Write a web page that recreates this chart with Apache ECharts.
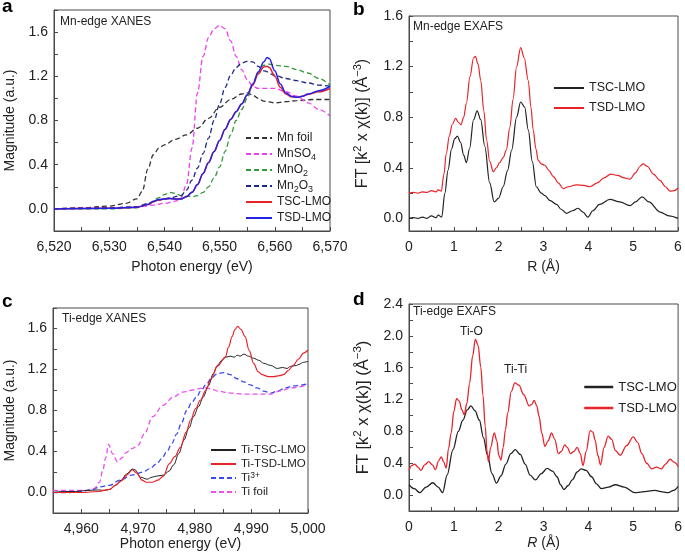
<!DOCTYPE html>
<html>
<head>
<meta charset="utf-8">
<script src="https://cdn.jsdelivr.net/npm/echarts@6/dist/echarts.min.js"></script>
<style>
  html, body { margin: 0; padding: 0; background: #fff; }
  #chart { width: 685px; height: 558px; }
</style>
</head>
<body>
<div id="chart"></div>
<script>
  // ---- panel a: Mn-edge XANES (energy eV, magnitude a.u.) ----
  const mnFoil = [[6520,0],[6525,0.01],[6530,0.025],[6533,0.05],[6535,0.09],[6536,0.16],[6537,0.36],[6538,0.49],[6539,0.55],[6540,0.58],[6542,0.63],[6544,0.67],[6546,0.73],[6548,0.82],[6550,0.92],[6552,0.99],[6554,1.04],[6555,1.05],[6556,1.03],[6557,1.0],[6558,0.975],[6560,0.96],[6562,0.97],[6564,0.98],[6567,0.99],[6570,0.99]]
  const mnSO4 = [[6520,0],[6530,0.01],[6535,0.015],[6538,0.035],[6540,0.05],[6542,0.07],[6543,0.1],[6544,0.22],[6545,0.55],[6546,1.05],[6547,1.38],[6548,1.55],[6549,1.63],[6550,1.66],[6551,1.63],[6552,1.52],[6553,1.38],[6554,1.26],[6555,1.17],[6556,1.11],[6557,1.09],[6558,1.09],[6560,1.09],[6562,1.06],[6564,1.02],[6566,0.96],[6568,0.9],[6570,0.84]]
  const mnO2 = [[6520,0],[6530,0],[6535,0.01],[6537,0.04],[6539,0.1],[6540,0.13],[6541,0.15],[6542,0.14],[6543,0.12],[6545,0.11],[6546,0.12],[6547,0.15],[6548,0.2],[6549,0.28],[6550,0.38],[6551,0.52],[6552,0.67],[6553,0.8],[6554,0.9],[6555,1.0],[6556,1.12],[6557,1.24],[6558,1.3],[6559,1.31],[6560,1.3],[6562,1.29],[6564,1.26],[6566,1.23],[6568,1.18],[6570,1.12]]
  const mn2O3 = [[6520,0],[6530,0.01],[6535,0.02],[6537,0.05],[6539,0.08],[6541,0.1],[6543,0.12],[6544,0.17],[6545,0.26],[6546,0.37],[6547,0.5],[6548,0.64],[6549,0.8],[6550,0.95],[6551,1.1],[6552,1.21],[6553,1.28],[6554,1.32],[6555,1.335],[6556,1.33],[6557,1.29],[6558,1.25],[6560,1.21],[6562,1.18],[6564,1.16],[6566,1.14],[6568,1.12],[6570,1.11]]
  const tscMn = [[6520,0],[6530,0.005],[6535,0.015],[6537,0.04],[6538,0.065],[6539,0.08],[6540,0.09],[6541,0.095],[6542,0.09],[6543,0.09],[6544,0.11],[6545,0.15],[6546,0.22],[6547,0.32],[6548,0.42],[6549,0.52],[6550,0.62],[6551,0.72],[6552,0.81],[6553,0.88],[6554,0.95],[6555,1.03],[6556,1.12],[6557,1.22],[6558,1.285],[6558.6,1.29],[6559,1.28],[6560,1.2],[6561,1.1],[6562,1.04],[6563,1.015],[6564,1.01],[6565,1.02],[6566,1.035],[6568,1.06],[6570,1.09]]
  const tsdMn = [[6520,0],[6530,0.005],[6535,0.015],[6537,0.04],[6538,0.07],[6539,0.085],[6540,0.09],[6541,0.095],[6542,0.09],[6543,0.09],[6544,0.11],[6545,0.15],[6546,0.22],[6547,0.32],[6548,0.42],[6549,0.52],[6550,0.62],[6551,0.72],[6552,0.81],[6553,0.88],[6554,0.95],[6555,1.03],[6556,1.13],[6557,1.24],[6558,1.33],[6558.6,1.37],[6559,1.36],[6560,1.25],[6561,1.13],[6562,1.05],[6563,1.02],[6564,1.01],[6565,1.02],[6566,1.04],[6568,1.07],[6570,1.11]]

  // ---- panel b: Mn-edge EXAFS (R in Å) ----
  const tscMnR = [[0,0],[0.1,0.005],[0.2,0],[0.3,0.01],[0.4,0],[0.5,0.02],[0.6,0.005],[0.65,0.025],[0.73,0.01],[0.8,0.2],[0.87,0.38],[0.95,0.55],[1.02,0.63],[1.08,0.65],[1.15,0.6],[1.22,0.5],[1.28,0.44],[1.35,0.55],[1.44,0.78],[1.52,0.85],[1.6,0.78],[1.69,0.57],[1.8,0.28],[1.9,0.13],[2.0,0.16],[2.1,0.25],[2.2,0.38],[2.29,0.54],[2.4,0.8],[2.49,0.92],[2.58,0.88],[2.66,0.7],[2.75,0.45],[2.84,0.25],[2.95,0.2],[3.03,0.18],[3.15,0.14],[3.29,0.11],[3.4,0.07],[3.51,0.04],[3.65,0.06],[3.77,0.08],[3.88,0.05],[3.99,0.01],[4.1,0.06],[4.25,0.11],[4.48,0.15],[4.7,0.13],[4.93,0.1],[5.05,0.13],[5.2,0.17],[5.35,0.13],[5.6,0.05],[5.8,0.02],[6.0,0]]
  const tsdMnR = [[0,0.2],[0.1,0.205],[0.2,0.2],[0.3,0.21],[0.4,0.205],[0.5,0.22],[0.6,0.21],[0.65,0.225],[0.72,0.215],[0.78,0.35],[0.83,0.51],[0.9,0.65],[0.96,0.74],[1.04,0.79],[1.1,0.76],[1.16,0.74],[1.22,0.8],[1.28,0.91],[1.36,1.12],[1.44,1.27],[1.48,1.28],[1.54,1.22],[1.6,1.09],[1.67,0.85],[1.73,0.62],[1.8,0.45],[1.88,0.37],[1.95,0.4],[2.02,0.44],[2.1,0.48],[2.17,0.54],[2.25,0.72],[2.32,0.94],[2.4,1.2],[2.49,1.35],[2.57,1.27],[2.66,1.09],[2.72,0.88],[2.77,0.7],[2.83,0.55],[2.88,0.46],[2.95,0.43],[3.03,0.42],[3.12,0.38],[3.22,0.33],[3.33,0.28],[3.44,0.235],[3.55,0.25],[3.74,0.265],[3.9,0.26],[4.04,0.25],[4.2,0.28],[4.35,0.32],[4.5,0.35],[4.65,0.34],[4.8,0.32],[4.93,0.31],[5.05,0.36],[5.15,0.41],[5.22,0.43],[5.32,0.41],[5.45,0.35],[5.6,0.3],[5.72,0.25],[5.82,0.215],[5.92,0.22],[6.0,0.24]]

  // ---- panel c: Ti-edge XANES ----
  const tiTsc = [[4955,0],[4957,0.01],[4959,0.01],[4961,0.02],[4963,0.025],[4964,0.02],[4965,0.03],[4966,0.07],[4967,0.12],[4968,0.18],[4969,0.23],[4969.5,0.22],[4970.4,0.15],[4971.6,0.13],[4972.5,0.15],[4973.3,0.16],[4974.5,0.17],[4975.5,0.21],[4976.3,0.27],[4977.2,0.38],[4978.1,0.51],[4979,0.63],[4979.8,0.74],[4980.7,0.84],[4981.5,0.93],[4982.4,1.04],[4983.3,1.16],[4984,1.24],[4984.8,1.29],[4985.5,1.32],[4986.3,1.33],[4987,1.32],[4987.5,1.34],[4988,1.33],[4988.7,1.35],[4989.5,1.33],[4990.4,1.31],[4991.3,1.29],[4992.2,1.26],[4993.4,1.24],[4994.6,1.21],[4995.5,1.22],[4996.3,1.21],[4996.9,1.23],[4998,1.24],[4998.4,1.25],[4999.2,1.27],[5000,1.28]]
  const tiTsd = [[4955,0],[4960,0],[4963,0.01],[4965,0.03],[4966,0.07],[4967,0.11],[4968,0.17],[4969,0.22],[4969.8,0.19],[4970.7,0.12],[4971.5,0.1],[4972.5,0.1],[4973.5,0.12],[4974.5,0.16],[4975.5,0.28],[4976.5,0.35],[4977.5,0.44],[4978.5,0.59],[4979.3,0.71],[4980.2,0.82],[4981,0.9],[4982,1.0],[4982.8,1.1],[4984,1.23],[4985.4,1.32],[4986,1.42],[4986.6,1.52],[4987.1,1.59],[4987.6,1.62],[4988.2,1.59],[4988.9,1.52],[4989.6,1.39],[4990.4,1.26],[4991.2,1.18],[4991.9,1.15],[4993,1.13],[4993.9,1.13],[4995,1.14],[4995.7,1.15],[4996.5,1.19],[4997.4,1.24],[4998.3,1.3],[4999.2,1.36],[5000,1.39]]
  const ti3 = [[4955,0],[4958,0],[4960,0.01],[4962,0.03],[4963.2,0.055],[4965,0.07],[4966.8,0.12],[4968.9,0.17],[4970.9,0.2],[4972,0.23],[4973.3,0.28],[4974.2,0.33],[4975.1,0.4],[4976,0.48],[4976.8,0.57],[4977.7,0.68],[4978.6,0.8],[4979.5,0.88],[4980.3,0.93],[4981.2,1.0],[4982.1,1.06],[4983,1.12],[4984,1.16],[4985.1,1.17],[4986.3,1.15],[4987.5,1.11],[4988.7,1.08],[4989.8,1.05],[4991,1.02],[4992.2,0.99],[4993.4,0.97],[4994.6,0.99],[4996,1.02],[4997.5,1.04],[5000,1.06]]
  const tiFoil = [[4955,0.02],[4958,0.02],[4961,0.02],[4962.3,0.04],[4963.2,0.1],[4963.8,0.22],[4964.3,0.34],[4964.8,0.47],[4965.5,0.38],[4966.4,0.3],[4967.2,0.34],[4967.9,0.39],[4969,0.43],[4970,0.46],[4971.1,0.57],[4972.6,0.74],[4974.4,0.85],[4976.2,0.93],[4977.9,0.98],[4979.7,1.0],[4981,1.015],[4982.1,1.02],[4983,1.01],[4984,0.99],[4986.3,0.97],[4988.7,0.96],[4991,0.96],[4993.4,0.96],[4995,0.99],[4997,1.02],[5000,1.05]]

  // ---- panel d: Ti-edge EXAFS ----
  const tscTiR = [[0,0.13],[0.12,0.08],[0.24,0.03],[0.38,0.1],[0.53,0.155],[0.65,0.1],[0.75,0.03],[0.85,0.25],[0.98,0.57],[1.1,0.8],[1.2,0.94],[1.3,1.07],[1.38,1.12],[1.47,1.06],[1.57,0.94],[1.66,0.72],[1.75,0.5],[1.85,0.27],[1.95,0.15],[2.05,0.24],[2.16,0.39],[2.27,0.52],[2.37,0.57],[2.48,0.51],[2.59,0.39],[2.7,0.25],[2.82,0.19],[2.95,0.27],[3.08,0.335],[3.2,0.3],[3.3,0.23],[3.38,0.13],[3.45,0.07],[3.55,0.12],[3.64,0.19],[3.75,0.29],[3.84,0.33],[3.95,0.31],[4.07,0.23],[4.18,0.14],[4.29,0.08],[4.45,0.1],[4.6,0.13],[4.8,0.1],[5.04,0.03],[5.2,0.04],[5.48,0.06],[5.65,0.04],[5.78,0.03],[5.9,0.06],[6.0,0.11]]
  const tsdTiR = [[0,0.31],[0.06,0.37],[0.13,0.39],[0.2,0.35],[0.27,0.31],[0.35,0.38],[0.44,0.42],[0.52,0.38],[0.59,0.32],[0.66,0.43],[0.72,0.48],[0.77,0.42],[0.83,0.34],[0.88,0.58],[0.94,0.78],[1.0,1.05],[1.06,1.21],[1.12,1.18],[1.18,1.07],[1.23,1.01],[1.29,1.15],[1.35,1.4],[1.42,1.75],[1.48,1.96],[1.54,1.88],[1.6,1.61],[1.65,1.25],[1.7,0.86],[1.74,0.55],[1.77,0.42],[1.82,0.6],[1.9,0.78],[1.96,0.68],[2.0,0.5],[2.05,0.44],[2.1,0.6],[2.15,0.82],[2.2,1.03],[2.28,1.3],[2.36,1.41],[2.45,1.38],[2.56,1.26],[2.68,1.12],[2.74,1.14],[2.79,1.19],[2.85,1.12],[2.9,0.99],[2.96,0.78],[3.03,0.61],[3.1,0.68],[3.18,0.78],[3.25,0.7],[3.33,0.52],[3.4,0.55],[3.47,0.63],[3.53,0.6],[3.6,0.52],[3.68,0.55],[3.75,0.6],[3.82,0.52],[3.88,0.37],[3.95,0.55],[4.04,0.81],[4.1,0.79],[4.15,0.69],[4.21,0.5],[4.27,0.38],[4.35,0.6],[4.44,0.74],[4.52,0.7],[4.6,0.56],[4.71,0.5],[4.85,0.62],[5.0,0.73],[5.1,0.66],[5.19,0.52],[5.3,0.4],[5.41,0.33],[5.52,0.35],[5.63,0.33],[5.72,0.39],[5.82,0.45],[5.92,0.41],[6.0,0.36]]

  // tick positions
  const mnEnergyLabels = [6520, 6530, 6540, 6550, 6560, 6570]
  const mnEnergyTicks = [6520, 6525, 6530, 6535, 6540, 6545, 6550, 6555, 6560, 6565, 6570]
  const tiEnergyLabels = [4960, 4970, 4980, 4990, 5000]
  const tiEnergyTicks = [4955, 4960, 4965, 4970, 4975, 4980, 4985, 4990, 4995, 5000]
  const rLabels = [0, 1, 2, 3, 4, 5, 6]
  const rTicks = [0, 0.5, 1, 1.5, 2, 2.5, 3, 3.5, 4, 4.5, 5, 5.5, 6]
  const magLabels = [0, 0.4, 0.8, 1.2, 1.6]
  const magTicks = [-0.2, 0, 0.2, 0.4, 0.6, 0.8, 1.0, 1.2, 1.4, 1.6, 1.8]
  const ftMnLabels = [0, 0.4, 0.8, 1.2, 1.6]
  const ftMnTicks = [0, 0.2, 0.4, 0.6, 0.8, 1.0, 1.2, 1.4, 1.6]
  const ftTiLabels = [0, 0.4, 0.8, 1.2, 1.6, 2.0, 2.4]
  const ftTiTicks = [-0.2, 0, 0.2, 0.4, 0.6, 0.8, 1.0, 1.2, 1.4, 1.6, 1.8, 2.0, 2.2, 2.4]

  const FONT = '"Liberation Sans", Arial, sans-serif'
  const TXT = '#222'
  const AXIS = '#4a4a4a'

  // legend text with sub/superscripts; series names carry a "#panel" suffix when repeated
  const legendRich = {
    'MnSO4': 'MnSO{sub|4}',
    'MnO2': 'MnO{sub|2}',
    'Mn2O3': 'Mn{sub|2}O{sub|3}',
    'Ti3+': 'Ti{sup|3+}'
  }
  function legendText(name) {
    let base = name.split('#')[0]
    return legendRich[base] || base
  }

  function xAxis(grid, min, max, labels, ticks, name, fmt, gap) {
    return {
      type: 'value', gridIndex: grid, min: min, max: max,
      name: name, nameLocation: 'middle', nameGap: gap,
      nameTextStyle: {fontFamily: FONT, fontSize: 14, color: TXT, rich: {i: {fontFamily: FONT, fontSize: 14, fontStyle: 'italic', color: TXT}}},
      axisLine: {onZero: false, lineStyle: {color: AXIS, width: 1}},
      axisTick: {inside: true, length: 4, customValues: ticks, lineStyle: {color: AXIS}},
      axisLabel: {customValues: labels, formatter: fmt, fontFamily: FONT, fontSize: 14, color: TXT, margin: 9},
      splitLine: {show: false}
    }
  }
  function yAxis(grid, min, max, labels, ticks, name, gap, nameSize) {
    return {
      type: 'value', gridIndex: grid, min: min, max: max,
      name: name, nameLocation: 'middle', nameGap: gap,
      nameTextStyle: {fontFamily: FONT, fontSize: nameSize, color: TXT, rich: {sup: {fontFamily: FONT, fontSize: nameSize - 5, color: TXT, verticalAlign: 'top', lineHeight: 22}}},
      axisLine: {onZero: false, lineStyle: {color: AXIS, width: 1}},
      axisTick: {inside: true, length: 4, customValues: ticks, lineStyle: {color: AXIS}},
      axisLabel: {customValues: labels, formatter: v => v.toFixed(1), fontFamily: FONT, fontSize: 14, color: TXT, margin: 6},
      splitLine: {show: false}
    }
  }
  function line(name, data, idx, color, width, dashed) {
    return {
      name: name, type: 'line', data: data, xAxisIndex: idx, yAxisIndex: idx,
      symbol: 'none', smooth: 0.35, smoothMonotone: 'x', color: color,
      lineStyle: {color: color, width: width, type: dashed ? [5, 3] : 'solid'},
      z: dashed ? 2 : 3
    }
  }
  function legend(names, left, top, lh, gap, iw, fs, lw) {
    let l = {
      data: names, orient: 'vertical', left: left, top: top,
      itemWidth: iw, itemHeight: 10, itemGap: gap, selectedMode: false,
      formatter: legendText,
      itemStyle: {opacity: 0},
      textStyle: {fontFamily: FONT, fontSize: fs, color: TXT, lineHeight: lh,
        rich: {
          sub: {fontFamily: FONT, fontSize: fs - 3, color: TXT, verticalAlign: 'bottom', lineHeight: lh},
          sup: {fontFamily: FONT, fontSize: fs - 3, color: TXT, verticalAlign: 'top', lineHeight: lh}
        }}
    }
    if (lw) l.lineStyle = {width: lw}
    return l
  }
  function text(str, x, y, size, extra) {
    return {type: 'text', left: x, top: y, style: Object.assign({text: str, fontFamily: FONT, fontSize: size, fill: TXT}, extra || {})}
  }

  const ftName = 'FT [k{sup|2} x χ(k)] (Å{sup|−3})'
  const comma = v => v.toLocaleString('en-US')
  const intFmt = v => String(v)

  const option = {
    animation: false,
    backgroundColor: '#fff',
    grid: [
      {left: 54, top: 10, width: 276, height: 221, show: true, borderColor: AXIS, borderWidth: 1},
      {left: 409, top: 16, width: 269, height: 215, show: true, borderColor: AXIS, borderWidth: 1},
      {left: 53, top: 308, width: 255, height: 205, show: true, borderColor: AXIS, borderWidth: 1},
      {left: 409, top: 304, width: 271, height: 207, show: true, borderColor: AXIS, borderWidth: 1}
    ],
    xAxis: [
      xAxis(0, 6520, 6570, mnEnergyLabels, mnEnergyTicks, 'Photon energy (eV)', comma, 29),
      xAxis(1, 0, 6, rLabels, rTicks, 'R (Å)', intFmt, 29),
      xAxis(2, 4955, 5000, tiEnergyLabels, tiEnergyTicks, 'Photon energy (eV)', comma, 24),
      xAxis(3, 0, 6, rLabels, rTicks, '{i|R} (Å)', intFmt, 25)
    ],
    yAxis: [
      yAxis(0, -0.2, 1.8, magLabels, magTicks, 'Magnitude (a.u.)', 37, 14),
      yAxis(1, -0.1, 1.6, ftMnLabels, ftMnTicks, ftName, 35, 16),
      yAxis(2, -0.2, 1.8, magLabels, magTicks, 'Magnitude (a.u.)', 36, 14),
      yAxis(3, -0.2, 2.4, ftTiLabels, ftTiTicks, ftName, 35, 16.5)
    ],
    legend: [
      legend(['Mn foil', 'MnSO4', 'MnO2', 'Mn2O3', 'TSC-LMO#a', 'TSD-LMO#a'], 240, 125, 16, 0, 26, 12),
      legend(['TSC-LMO#b', 'TSD-LMO#b'], 548, 75, 16, 4, 30, 12.5),
      legend(['Ti-TSC-LMO', 'Ti-TSD-LMO', 'Ti3+', 'Ti foil'], 205, 438, 14, 0, 25, 11.5),
      legend(['TSC-LMO#d', 'TSD-LMO#d'], 578, 374, 16, 5, 29, 13, 2.5)
    ],
    series: [
      line('Mn foil', mnFoil, 0, '#333333', 1.3, true),
      line('MnSO4', mnSO4, 0, '#ee3eee', 1.3, true),
      line('MnO2', mnO2, 0, '#2f9a3a', 1.3, true),
      line('Mn2O3', mn2O3, 0, '#1c2a86', 1.3, true),
      line('TSC-LMO#a', tscMn, 0, '#e8232a', 1.5, false),
      line('TSD-LMO#a', tsdMn, 0, '#2323e6', 1.5, false),
      line('TSC-LMO#b', tscMnR, 1, '#222222', 1.2, false),
      line('TSD-LMO#b', tsdMnR, 1, '#e8232a', 1.2, false),
      line('Ti-TSC-LMO', tiTsc, 2, '#222222', 1, false),
      line('Ti-TSD-LMO', tiTsd, 2, '#e8232a', 1.2, false),
      line('Ti3+', ti3, 2, '#3a4af0', 1.3, true),
      line('Ti foil', tiFoil, 2, '#ee4ef0', 1.3, true),
      line('TSC-LMO#d', tscTiR, 3, '#222222', 1.3, false),
      line('TSD-LMO#d', tsdTiR, 3, '#e8232a', 1.3, false)
    ],
    graphic: [
      text('a', 2, -3, 19, {fontWeight: 'bold', fill: '#000'}),
      text('b', 353, 0, 19, {fontWeight: 'bold', fill: '#000'}),
      text('c', 2, 292, 19, {fontWeight: 'bold', fill: '#000'}),
      text('d', 353, 290, 19, {fontWeight: 'bold', fill: '#000'}),
      text('Mn-edge XANES', 60, 16, 12),
      text('Mn-edge EXAFS', 413, 21, 12),
      text('Ti-edge XANES', 62, 313, 12),
      text('Ti-edge EXAFS', 413, 306, 12),
      text('Ti-O', 460, 326, 12),
      text('Ti-Ti', 504, 364, 12)
    ]
  }

  const chart = echarts.init(document.getElementById('chart'), null, {renderer: 'canvas'})
  chart.setOption(option)
</script>
</body>
</html>
